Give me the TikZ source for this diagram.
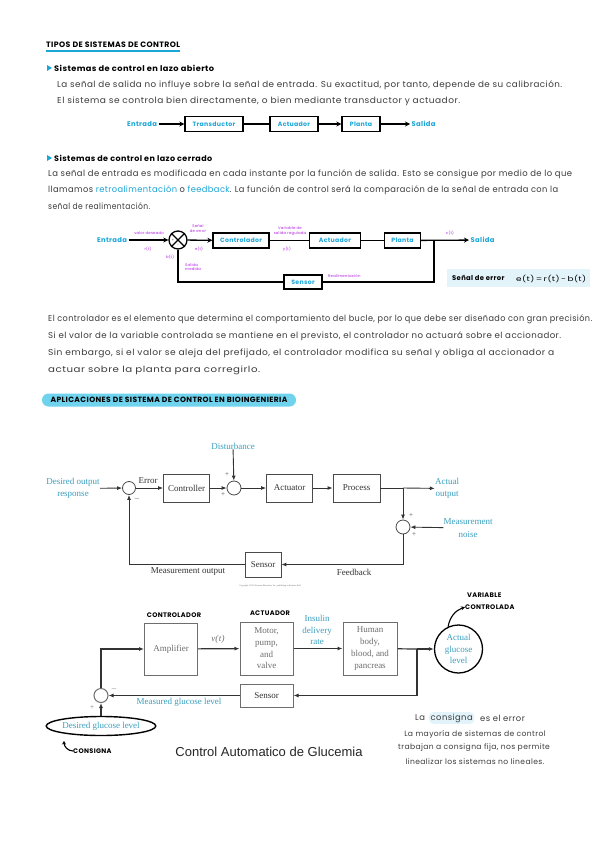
\documentclass[tikz,border=0pt]{standalone}
\usepackage{fontspec}
\setmainfont{Liberation Serif}
\newfontfamily\hand[LetterSpace=5]{Poppins}
\newfontfamily\arialf{Liberation Sans}
\usetikzlibrary{arrows.meta,positioning,shapes.geometric}
\definecolor{hcyan}{HTML}{1BA6D8}
\definecolor{pcyan}{HTML}{3A9FBF}
\definecolor{hpurple}{HTML}{B21FE0}
\definecolor{ink}{HTML}{3C3C3C}
\definecolor{hlcyan}{HTML}{6FD3EE}
\definecolor{boxbg}{HTML}{E3F3FA}
\definecolor{boxgray}{HTML}{4A4A4A}
\definecolor{lgray}{HTML}{333333}
\definecolor{ggray}{HTML}{6E6E6E}
% 手写行：拉到给定宽度
\newcommand{\fitw}[2]{\resizebox{#1pt}{\height}{#2}}
\begin{document}
\begin{tikzpicture}[x=1pt,y=-1pt,
  hw/.style={font=\hand\fontsize{8.6}{10}\selectfont, text=ink, anchor=west, inner sep=0},
  htit/.style={font=\hand\bfseries\fontsize{7.8}{9}\selectfont, text=black, anchor=west, inner sep=0},
  hhead/.style={font=\hand\bfseries\fontsize{7.9}{9}\selectfont, text=black, anchor=west, inner sep=0},
  hcy/.style={font=\hand\bfseries\fontsize{6.8}{8}\selectfont, text=hcyan, inner sep=1.5},
  hbox/.style={draw, line width=1.3, font=\hand\bfseries\fontsize{6.2}{7}\selectfont, text=hcyan, minimum height=15, inner sep=1},
  harr/.style={line width=1.3, -{Stealth[length=5,width=5]}},
  hln/.style={line width=1.3},
  pur/.style={font=\hand\fontsize{3.8}{4.8}\selectfont, text=hpurple, inner sep=0, align=center},
  hcap/.style={font=\hand\bfseries\fontsize{6.6}{8}\selectfont, text=black, inner sep=0},
  pbox/.style={draw=boxgray, line width=0.8, font=\fontsize{9}{10}\selectfont, text=black!80, inner sep=1},
  parr/.style={draw=lgray, line width=0.9, -{Latex[length=5,width=4]}},
  pln/.style={draw=lgray, line width=0.9},
  plab/.style={font=\fontsize{9}{12.5}\selectfont, text=pcyan, align=center, inner sep=0},
  psum/.style={circle, draw=boxgray, line width=0.8, inner sep=0},
  sgn/.style={font=\fontsize{7}{7}\selectfont, text=black!70, inner sep=0},
  gbox/.style={draw=ggray, line width=1, font=\fontsize{9}{11.7}\selectfont, text=ggray, align=center, inner sep=1},
  garr/.style={draw=lgray, line width=1.2, -{Latex[length=5,width=4]}},
  gln/.style={draw=lgray, line width=1.2},
  nota/.style={font=\hand\fontsize{7.6}{9}\selectfont, text=ink, inner sep=0}]
\useasboundingbox (0,0) rectangle (599,848);
\fill[white] (0,0) rectangle (599,848);

% 标题
\node[htit] (tit) at (46,45) {TIPOS DE SISTEMAS DE CONTROL};
\draw[hcyan, line width=1.6] ([yshift=-3]tit.south west) -- ([yshift=-3]tit.south east);

% 开环
\fill[hcyan] (47,65) -- (52,68) -- (47,71) -- cycle;
\node[hhead] (ola) at (54,68) {\fitw{160}{Sistemas de control en lazo abierto}};
\node[hw] (p1a) at (57,85) {\fitw{505}{La señal de salida no influye sobre la señal de entrada. Su exactitud, por tanto, depende de su calibración.}};
\node[hw] (p1b) at (57,101) {\fitw{403}{El sistema se controla bien directamente, o bien mediante transductor y actuador.}};

\node[hcy] (oin) at (142,124) {Entrada};
\node[hbox, minimum width=58] (otr) at (214,124) {Transductor};
\node[hbox, minimum width=48] (oac) at (294,124) {Actuador};
\node[hbox, minimum width=38] (opl) at (361,124) {Planta};
\node[hcy, anchor=west] (oout) at (410,124) {Salida};
\draw[harr] (oin) -- (otr);
\draw[hln] (otr) -- (oac);
\draw[harr] (oac) -- (opl);
\draw[harr] (opl) -- (oout);

% 闭环
\fill[hcyan] (47,155) -- (52,158) -- (47,161) -- cycle;
\node[hhead] (olc) at (54,158) {\fitw{158}{Sistemas de control en lazo cerrado}};
\node[hw] (p2a) at (48,174) {\fitw{524}{La señal de entrada es modificada en cada instante por la función de salida. Esto se consigue por medio de lo que}};
\node[hw] (p2b) at (48,190) {\fitw{510}{llamamos \textcolor{hcyan}{retroalimentación} o \textcolor{hcyan}{feedback}. La función de control será la comparación de la señal de entrada con la}};
\node[hw] (p2c) at (48,206) {\fitw{102}{señal de realimentación.}};

\node[hcy] (cin) at (112,240) {Entrada};
\node[circle, draw, line width=1.3, minimum size=18, inner sep=0] (csum) at (178,240) {};
\draw[line width=1.1] (csum.45) -- (csum.225);
\draw[line width=1.1] (csum.135) -- (csum.315);
\node[font=\fontsize{4}{4}\selectfont, inner sep=0] (cplus) at (173,240) {+};
\node[font=\fontsize{4}{4}\selectfont, inner sep=0] (cminus) at (178,245) {-};
\node[hbox, minimum width=56] (cctl) at (241,240.5) {Controlador};
\node[hbox, minimum width=51] (cact) at (335,240.5) {Actuador};
\node[hbox, minimum width=36] (cpl) at (402.5,240.5) {Planta};
\node[hcy, anchor=west] (cout) at (469,240) {Salida};
\node[hbox, minimum width=38, minimum height=14] (csen) at (303,282) {Sensor};
\coordinate (cbr) at (434,240);
\draw[harr] (cin) -- (csum);
\draw[harr] (csum) -- (cctl);
\draw[hln] (cctl) -- (cact);
\draw[hln] (cact) -- (cpl);
\draw[harr] (cpl) -- (cout);
\draw[hln] (cbr) |- (csen);
\draw[hln] (csen) -| (csum);

% 紫色标注
\node[pur] (lvd) at (149,233) {valor deseado};
\node[pur] (lrt) at (148,249) {r(t)};
\node[pur] (lse) at (198,229) {Señal\\de error};
\node[pur] (let) at (199,249) {e(t)};
\node[pur] (lbt) at (170,257) {b(t)};
\node[pur, align=left, anchor=west] (lsm) at (185,267) {Salida\\medida};
\node[pur] (lvs) at (290,231) {Variable de\\salida regulada};
\node[pur] (lyt) at (287,249) {y(t)};
\node[pur] (lct) at (450,233) {c(t)};
\node[pur, anchor=west] (lre) at (328,276) {Realimentación};

\node[fill=boxbg, minimum width=143, minimum height=18, inner sep=0] (cerr) at (518.5,278) {};
\node[font=\hand\bfseries\fontsize{6.8}{8}\selectfont, anchor=west, inner sep=0] (cerrt) at (452,278) {Señal de error};
\node[font=\hand\fontsize{6.8}{8}\selectfont, anchor=west, inner sep=0] (cerrf) at (516,278.5) {\fitw{70}{e(t)\,=\,r(t)\,-\,b(t)}};

% 说明
\node[hw] (p3a) at (48,319) {\fitw{544}{El controlador es el elemento que determina el comportamiento del bucle, por lo que debe ser diseñado con gran precisión.}};
\node[hw] (p3b) at (48,336) {\fitw{513}{Si el valor de la variable controlada se mantiene en el previsto, el controlador no actuará sobre el accionador.}};
\node[hw] (p3c) at (48,353) {\fitw{506}{Sin embargo, si el valor se aleja del prefijado, el controlador modifica su señal y obliga al accionador a}};
\node[hw] (p3d) at (48,370) {\fitw{212}{actuar sobre la planta para corregirlo.}};

% 应用
\node[fill=hlcyan, rounded corners=6.5, minimum width=254, minimum height=13, inner sep=0,
  font=\hand\bfseries\fontsize{7.6}{8}\selectfont] (apl) at (169,400) {APLICACIONES DE SISTEMA DE CONTROL EN BIOINGENIERIA};

% 框图一
\node[plab] (dist) at (233,446) {Disturbance};
\node[plab] (dout) at (73,488.5) {Desired output\\response};
\node[psum, minimum size=13] (s1) at (129,488) {};
\node[pbox, minimum width=46, minimum height=28] (ctl) at (186.5,488) {Controller};
\node[psum, minimum size=14] (s2) at (234,488) {};
\node[pbox, minimum width=46, minimum height=28] (act) at (289.5,488) {Actuator};
\node[pbox, minimum width=47, minimum height=28] (proc) at (356.5,488) {Process};
\coordinate (pbr) at (403,488);
\node[plab] (aout) at (447,488.5) {Actual\\output};
\node[psum, minimum size=14] (s3) at (403,527) {};
\node[plab] (noise) at (468,528) {Measurement\\noise};
\node[pbox, minimum width=36, minimum height=25] (sen) at (263,564.5) {Sensor};
\draw[parr] (dout) -- (s1);
\draw[parr] (s1) -- (ctl);
\draw[parr] (ctl) -- (s2);
\draw[parr] (dist) -- (s2);
\draw[parr] (s2) -- (act);
\draw[parr] (act) -- (proc);
\draw[pln] (proc) -- (pbr);
\draw[parr] (pbr) -- (aout);
\draw[parr] (pbr) -- (s3);
\draw[parr] (noise) -- (s3);
\draw[parr] (s3) |- (sen);
\draw[parr] (sen) -| (s1);
\node[font=\fontsize{9}{10}\selectfont, text=black!80, inner sep=0] (lerr) at (148,481) {Error};
\node[font=\fontsize{9}{10}\selectfont, text=black!80, inner sep=0] (lmo) at (188,572) {Measurement output};
\node[font=\fontsize{9}{10}\selectfont, text=black!80, inner sep=0] (lfb) at (354,572) {Feedback};
\node[sgn] (sg1) at (137,499) {$-$};
\node[sgn] (sg2) at (227,475) {+};
\node[sgn] (sg3) at (223,495) {+};
\node[sgn] (sg4) at (411,516) {+};
\node[sgn] (sg5) at (414,535) {+};
\node[font=\fontsize{2.2}{3}\selectfont, text=black!60, inner sep=0] (copy) at (270,586) {Copyright \textcopyright 2011 Pearson Education, Inc. publishing as Prentice Hall};

% 框图二：血糖
\node[hcap] (kctl) at (174,615) {CONTROLADOR};
\node[hcap] (kact) at (270,613) {ACTUADOR};
\node[gbox, minimum width=53, minimum height=52] (amp) at (171,649) {Amplifier};
\node[gbox, minimum width=53, minimum height=53] (mot) at (266.5,648.5) {Motor,\\pump,\\and\\valve};
\node[plab, font=\fontsize{9}{11.5}\selectfont] (ins) at (317,630) {Insulin\\delivery\\rate};
\node[gbox, minimum width=54, minimum height=53] (hum) at (370,648.5) {Human\\body,\\blood, and\\pancreas};
\coordinate (gbr) at (417,649);
\node[circle, draw, line width=1.3, minimum size=48, inner sep=0, plab, font=\fontsize{9}{11.5}\selectfont] (agl) at (458.5,649) {Actual\\glucose\\level};
\node[gbox, text=lgray, minimum width=53, minimum height=23] (gsen) at (266.5,695.5) {Sensor};
\node[psum, draw=ggray, line width=1, minimum size=14] (gs) at (101,695.5) {};
\node[ellipse, draw, line width=1.4, minimum width=103, minimum height=19, inner sep=0, plab] (dgl) at (101,726) {Desired glucose level};
\draw[garr] (gs) |- (amp);
\draw[garr] (amp) -- (mot);
\draw[garr] (mot) -- (hum);
\draw[gln] (hum) -- (gbr);
\draw[garr] (gbr) -- (agl);
\draw[garr] (gbr) |- (gsen);
\draw[garr] (gsen) -- (gs);
\draw[garr] (dgl) -- (gs);
\node[font=\itshape\fontsize{9}{10}\selectfont, text=ggray, inner sep=0] (lvt) at (218,639) {v(\textup{\textit{t}})};
\node[plab] (lmg) at (179,702.5) {Measured glucose level};
\node[sgn, text=ggray] (gm) at (114,689) {$-$};
\node[sgn, text=ggray] (gp) at (92,708) {+};

% 手写注释
\node[hcap, anchor=west] (cons) at (73,751) {CONSIGNA};
\draw[line width=1.1, -{Stealth[length=3.5,width=4]}] (cons.west) to[out=180, in=-90] ++(-9,-10);
\node[hcap, anchor=west] (vvar) at (467,595) {VARIABLE};
\node[hcap, anchor=west] (vcon) at (465,607) {CONTROLADA};
\draw[line width=1.1, -{Stealth[length=4,width=4]}] (agl.115) to[out=80, in=200] (vcon.west);
\node[font=\arialf\fontsize{13}{14}\selectfont, text=black!85, inner sep=0] (gtit) at (269,752) {Control Automatico de Glucemia};

\node[nota, font=\hand\fontsize{8.4}{10}\selectfont, anchor=west] (lc1) at (415,718) {La};
\node[fill=boxbg, rounded corners=4, font=\hand\fontsize{8.4}{10}\selectfont, text=ink, inner sep=1.5, anchor=west] (lc2) at (429,718) {consigna};
\node[nota, font=\hand\fontsize{8.4}{10}\selectfont, anchor=west] (lc3) at (480,718) {es el error};
\node[nota] (lm1) at (475,734) {La mayoría de sistemas de control};
\node[nota] (lm2) at (474,748) {trabajan a consigna fija, nos permite};
\node[nota] (lm3) at (475,762) {linealizar los sistemas no lineales.};
\end{tikzpicture}
\end{document}
